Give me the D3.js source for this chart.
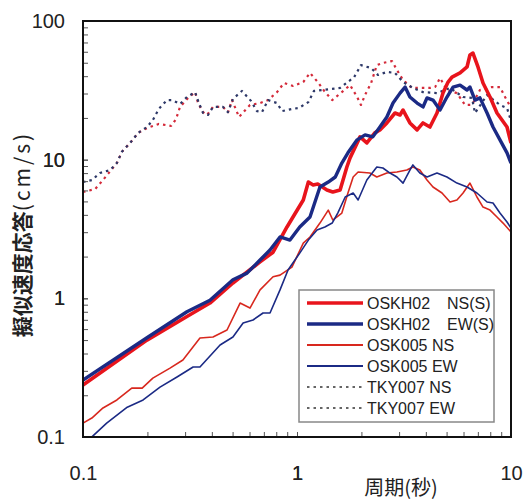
<!DOCTYPE html>
<html>
<head>
<meta charset="utf-8">
<script src="https://cdn.jsdelivr.net/npm/d3@7"></script>
<style>
body { margin: 0; background: #fff; }
</style>
</head>
<body>
<div id="chart"></div>
<script>
// 周期(秒), 擬似速度応答(cm/s)
var oskh02NS = [[0.1,0.237],[0.199,0.50],[0.306,0.74],[0.392,0.925],[0.502,1.29],[0.672,1.83],[0.773,2.15],
  [0.898,3.27],[0.958,3.86],[1.07,5.12],[1.13,6.90],[1.19,6.56],[1.25,6.67],[1.38,6.04],[1.47,5.84],[1.59,6.04],
  [1.71,8.85],[1.77,10.3],[1.97,14.6],[2.12,13.2],[2.31,15.6],[2.44,16.4],[2.63,18.4],[2.87,21.7],[3.03,21.0],
  [3.13,22.8],[3.37,18.4],[3.64,16.4],[3.88,18.4],[4.18,17.2],[4.51,21.7],[4.81,30.2],[5.08,36.3],[5.30,39.4],
  [5.78,42.2],[6.23,46.6],[6.43,56.9],[6.64,58.7],[7.01,46.6],[7.40,35.7],[7.98,28.3],[8.60,21.7],[9.58,17.2],[10,13.2]];

var oskh02EW = [[0.1,0.257],[0.199,0.52],[0.306,0.80],[0.392,0.97],[0.502,1.36],[0.584,1.52],[0.672,1.89],
  [0.748,2.23],[0.833,2.77],[0.927,2.63],[1.03,3.27],[1.15,3.86],[1.28,6.35],[1.40,6.90],[1.51,7.50],[1.62,9.46],
  [1.73,11.2],[1.91,13.9],[2.08,15.1],[2.26,14.6],[2.44,17.2],[2.63,20.3],[2.81,25.6],[3.03,30.2],[3.20,33.4],
  [3.37,28.3],[3.64,25.6],[3.88,24.0],[4.05,27.9],[4.32,26.9],[4.66,22.8],[5.02,28.3],[5.36,33.4],[5.78,34.5],
  [6.23,31.8],[6.43,33.4],[6.79,26.9],[7.16,27.9],[7.73,21.7],[8.24,17.2],[8.88,13.9],[9.58,11.2],[10,9.46]];

var osk005NS = [[0.1,0.126],[0.110,0.137],[0.124,0.162],[0.144,0.185],[0.169,0.225],[0.189,0.225],[0.212,0.266],
  [0.255,0.314],[0.293,0.359],[0.352,0.517],[0.405,0.526],[0.471,0.591],[0.542,0.925],[0.603,0.851],[0.672,1.15],
  [0.773,1.43],[0.833,1.47],[0.947,1.68],[1.07,2.50],[1.15,2.77],[1.28,3.49],[1.40,4.33],[1.47,3.67],[1.62,4.12],
  [1.73,5.75],[1.83,7.50],[1.93,8.15],[2.19,8.01],[2.36,7.50],[2.63,8.01],[2.93,8.15],[3.26,8.42],[3.48,8.85],
  [3.75,8.42],[4.05,7.13],[4.32,6.35],[4.76,5.75],[5.19,4.95],[5.59,5.12],[5.97,5.75],[6.43,6.78],[6.93,5.38],
  [7.40,4.55],[7.98,4.33],[8.60,3.86],[9.18,3.49],[10,3.01]];

var osk005EW = [[0.1,0.088],[0.111,0.1016],[0.129,0.126],[0.161,0.164],[0.191,0.185],[0.229,0.229],[0.275,0.271],
  [0.327,0.320],[0.352,0.320],[0.437,0.461],[0.502,0.526],[0.560,0.664],[0.623,0.698],[0.694,0.784],[0.748,0.784],
  [0.833,1.15],[0.908,1.60],[1.03,2.12],[1.13,2.63],[1.24,3.11],[1.35,3.27],[1.46,3.49],[1.55,4.12],[1.68,5.38],
  [1.83,5.75],[1.93,5.12],[2.12,7.13],[2.36,8.85],[2.52,8.71],[2.72,8.01],[2.93,7.50],[3.13,6.78],[3.37,8.42],
  [3.48,9.16],[3.75,8.01],[4.05,7.50],[4.51,8.01],[5.02,7.50],[5.59,6.78],[6.23,6.35],[6.93,5.75],[7.73,4.95],
  [8.24,4.87],[8.88,4.12],[9.58,3.55],[10,3.21]];

var tky007NS = [[0.1,5.84],[0.114,6.14],[0.124,7.13],[0.144,9.46],[0.152,11.4],[0.166,13.2],[0.181,15.6],
  [0.199,16.9],[0.226,18.1],[0.258,17.5],[0.272,19.6],[0.284,24.0],[0.310,27.9],[0.334,30.7],[0.345,25.6],
  [0.364,22.0],[0.380,21.0],[0.405,24.0],[0.451,24.0],[0.476,22.0],[0.497,26.9],[0.536,20.3],[0.603,24.8],
  [0.672,25.6],[0.732,26.9],[0.807,30.7],[0.869,35.7],[0.958,34.0],[1.07,36.3],[1.15,42.2],[1.25,36.3],
  [1.34,31.3],[1.46,26.9],[1.62,30.7],[1.77,34.5],[1.91,28.3],[1.99,24.8],[2.08,29.3],[2.22,35.7],[2.36,48.1],
  [2.52,49.8],[2.78,51.4],[2.93,44.4],[3.13,37.5],[3.45,32.9],[3.84,32.9],[4.18,32.9],[4.42,33.4],[4.66,38.8],
  [5.02,31.8],[5.59,30.2],[6.10,24.8],[6.57,24.8],[7.16,31.8],[8.15,33.4],[8.88,33.4],[9.38,28.3],[9.89,24.4]];

var tky007EW = [[0.1,6.90],[0.110,7.13],[0.120,8.01],[0.134,8.42],[0.144,9.46],[0.152,11.4],[0.166,13.2],
  [0.181,15.6],[0.199,17.2],[0.212,19.3],[0.226,23.2],[0.247,26.9],[0.261,26.9],[0.284,25.2],[0.306,28.3],
  [0.334,30.7],[0.348,25.6],[0.364,21.7],[0.384,21.0],[0.405,24.0],[0.451,24.0],[0.476,22.0],[0.502,27.4],
  [0.553,31.3],[0.610,26.5],[0.650,22.4],[0.686,22.0],[0.732,26.9],[0.807,25.6],[0.851,22.4],[0.947,23.2],
  [1.02,23.6],[1.13,26.0],[1.20,31.3],[1.59,32.9],[1.85,39.4],[1.99,48.1],[2.22,45.8],[2.39,40.8],[2.63,42.9],
  [2.87,42.2],[3.13,36.3],[3.48,32.9],[3.88,30.7],[4.51,30.2],[5.19,32.9],[5.97,28.3],[6.57,27.9],[6.79,21.7],
  [7.73,29.3],[8.88,24.8],[9.58,23.6],[10,19.0]];

// 目盛り
var xTicks = [0.2,0.3,0.4,0.5,0.6,0.7,0.8,0.9,1,2,3,4,5,6,7,8,9];
var yTicks = [0.2,0.3,0.4,0.5,0.6,0.7,0.8,0.9,1,2,3,4,5,6,7,8,9,10,20,30,40,50,60,70,80,90];
var xLabels = [0.1, 1, 10];
var yLabels = [0.1, 1, 10, 100];

var legendNames = [["OSKH02", "NS(S)"], ["OSKH02", "EW(S)"], ["OSK005 NS", ""], ["OSK005 EW", ""], ["TKY007 NS", ""], ["TKY007 EW", ""]];

var red = "#e8141c", navy = "#1b2a85", redThin = "#d8281e", redDot = "#d42a3a", navyDot = "#2d3868";

var width = 524, height = 501;
var plotL = 83, plotR = 511, plotT = 21, plotB = 437;

var x = d3.scaleLog().domain([0.1, 10]).range([plotL, plotR]);
var y = d3.scaleLog().domain([0.1, 100]).range([plotB, plotT]);

var svg = d3.select("#chart").append("svg")
    .attr("width", width)
    .attr("height", height);

svg.append("clipPath").attr("id", "plot")
  .append("rect")
    .attr("x", plotL).attr("y", plotT)
    .attr("width", plotR - plotL).attr("height", plotB - plotT);

var linea = d3.line()
    .x(d => x(d[0]))
    .y(d => y(d[1]));

var series = [
  { data: tky007NS, color: redDot, w: 2.2, dash: "2.5,4" },
  { data: tky007EW, color: navyDot, w: 2.2, dash: "2.5,4" },
  { data: osk005NS, color: redThin, w: 1.6, dash: null },
  { data: osk005EW, color: navy, w: 1.6, dash: null },
  { data: oskh02NS, color: red, w: 3.6, dash: null },
  { data: oskh02EW, color: navy, w: 3.4, dash: null }
];

var curvas = svg.append("g").attr("clip-path", "url(#plot)");
series.forEach(function(s) {
  curvas.append("path")
    .datum(s.data)
    .attr("fill", "none")
    .attr("stroke", s.color)
    .attr("stroke-width", s.w)
    .attr("stroke-linejoin", "round")
    .attr("stroke-dasharray", s.dash)
    .attr("d", linea);
});

// ejes
var yAxis = d3.axisLeft(y)
    .tickValues(yTicks.concat(yLabels))
    .tickSize(-5)
    .tickPadding(18)
    .tickFormat(d => yLabels.indexOf(d) >= 0 ? d3.format("~g")(d) : "");

var xAxis = d3.axisBottom(x)
    .tickValues(xTicks.concat(xLabels))
    .tickSize(-5)
    .tickPadding(29)
    .tickFormat(d => xLabels.indexOf(d) >= 0 ? d3.format("~g")(d) : "");

function estiloEje(sel) {
  sel.select(".domain").remove();
  sel.selectAll("line").attr("stroke", "#555").attr("stroke-width", 1);
  sel.selectAll("text")
    .attr("font-family", "Liberation Sans, Arial, sans-serif")
    .attr("font-size", 20)
    .attr("fill", "#222");
}

svg.append("g")
    .attr("transform", "translate(" + plotL + ",0)")
    .call(yAxis)
    .call(estiloEje);

svg.append("g")
    .attr("transform", "translate(0," + plotB + ")")
    .call(xAxis)
    .call(estiloEje);

// marco
svg.append("rect")
    .attr("x", plotL).attr("y", plotT)
    .attr("width", plotR - plotL).attr("height", plotB - plotT)
    .attr("fill", "none")
    .attr("stroke", "#111")
    .attr("stroke-width", 2);

// ラベル
svg.append("text")
    .attr("x", 401)
    .attr("y", 495)
    .attr("text-anchor", "middle")
    .attr("font-family", "Noto Sans CJK JP, sans-serif")
    .attr("font-size", 20)
    .attr("fill", "#222")
    .text("周期(秒)");

var yl = svg.append("text")
    .attr("transform", "translate(30,234) rotate(-90)")
    .attr("text-anchor", "middle")
    .attr("font-family", "Noto Sans CJK JP, sans-serif")
    .attr("font-size", 21)
    .attr("font-weight", "bold")
    .attr("fill", "#222");
yl.append("tspan").text("擬似速度応答");
yl.append("tspan").attr("font-weight", "normal").attr("letter-spacing", 3).text("(cm/s)");

// leyenda
var leg = svg.append("g");
leg.append("rect")
    .attr("x", 299).attr("y", 290)
    .attr("width", 195).attr("height", 132)
    .attr("fill", "#fff")
    .attr("stroke", "#888")
    .attr("stroke-width", 1.5);

var legStyle = [
  { color: red, w: 3.6, dash: null },
  { color: navy, w: 3.4, dash: null },
  { color: redThin, w: 2, dash: null },
  { color: navy, w: 2, dash: null },
  { color: "#333", w: 1.6, dash: "2.5,4" },
  { color: "#333", w: 1.6, dash: "2.5,4" }
];
var rowY = [303, 324, 345, 366, 387, 408];

legendNames.forEach(function(n, i) {
  leg.append("line")
    .attr("x1", 307).attr("x2", 363)
    .attr("y1", rowY[i]).attr("y2", rowY[i])
    .attr("stroke", legStyle[i].color)
    .attr("stroke-width", legStyle[i].w)
    .attr("stroke-dasharray", legStyle[i].dash);
  leg.append("text")
    .attr("x", 367).attr("y", rowY[i] + 6)
    .attr("font-family", "Liberation Sans, Arial, sans-serif")
    .attr("font-size", 16)
    .attr("fill", "#222")
    .text(n[0]);
  if (n[1]) {
    leg.append("text")
      .attr("x", 447).attr("y", rowY[i] + 6)
      .attr("font-family", "Liberation Sans, Arial, sans-serif")
      .attr("font-size", 16)
      .attr("fill", "#222")
      .text(n[1]);
  }
});
</script>
</body>
</html>
